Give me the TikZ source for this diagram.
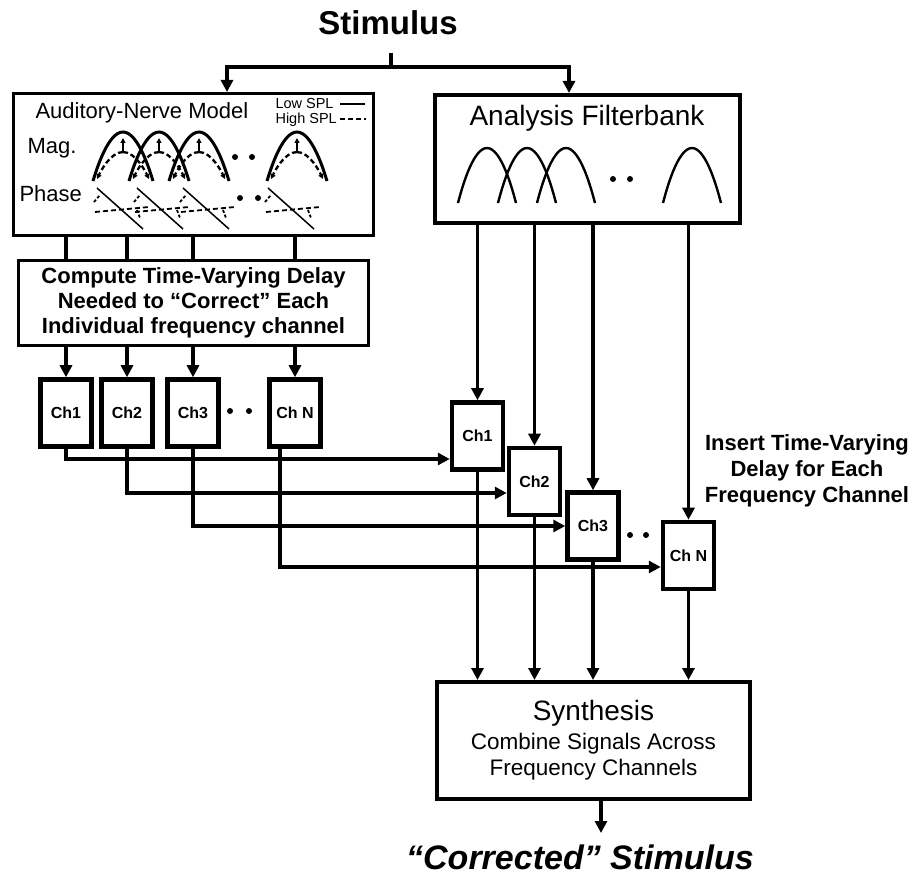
\documentclass[tikz,border=0pt]{standalone}
\usepackage{fontspec}
\setmainfont{Liberation Sans}
\usetikzlibrary{arrows.meta}

\newcommand{\fsz}[2]{\fontsize{#1}{#2}\selectfont}

\begin{document}
\begin{tikzpicture}[x=1pt, y=-1pt,
    box/.style={draw, line width=3pt, inner sep=0pt},
    chbox/.style={draw, line width=4.5pt, minimum width=51pt, minimum height=67pt,
                  inner sep=0pt, font=\fsz{16}{19}\bfseries},
    wire/.style={line width=3.4pt},
    arr/.style={wire, -{Triangle[length=12pt,width=12pt]}},
    lowc/.style={line width=3pt},
    highc/.style={line width=2.3pt, dash pattern=on 5pt off 3pt},
    small tip/.style={-{Triangle[length=5pt,width=5pt]}}]
  \useasboundingbox (0,0) rectangle (914,877);

  % main blocks
  \node[font=\fsz{33}{36}\bfseries] (stim) at (388,23) {Stimulus};
  \node[box, minimum width=360pt, minimum height=142pt] (an) at (193.5,164.5) {};
  \node[box, line width=4pt, minimum width=305pt, minimum height=128pt] (fb) at (587.5,159) {};
  \node[box, minimum width=350pt, minimum height=85pt, align=center,
        font=\fsz{22}{25}\bfseries] (comp) at (193.5,303)
    {Compute Time-Varying Delay\\Needed to “Correct” Each\\Individual frequency channel};
  \node[box, line width=4pt, minimum width=313pt, minimum height=117pt, align=center,
        font=\fsz{22.5}{26}] (syn) at (593.5,740.5)
    {{\fsz{28}{30}Synthesis}\\[3pt]Combine Signals Across\\Frequency Channels};
  \node[font=\fsz{34}{36}\bfseries\itshape] (corr) at (580,857) {“Corrected” Stimulus};
  \node[align=center, font=\fsz{22}{26}\bfseries] (ins) at (807,471)
    {Insert Time-Varying\\Delay for Each\\Frequency Channel};

  % channel boxes
  \node[chbox] (lch1) at (66,413) {Ch1};
  \node[chbox] (lch2) at (127,413) {Ch2};
  \node[chbox] (lch3) at (193,413) {Ch3};
  \node[chbox] (lchN) at (295,413) {Ch N};
  \node[chbox] (rch1) at (477.5,436) {Ch1};
  \node[chbox] (rch2) at (534.5,481.5) {Ch2};
  \node[chbox] (rch3) at (593,526) {Ch3};
  \node[chbox] (rchN) at (688.5,555.5) {Ch N};

  % auditory-nerve model contents
  \node[font=\fsz{22}{24}, anchor=base west] (antitle) at (32,119) {Auditory-Nerve Model};
  \node[font=\fsz{14.5}{16}, anchor=base west] (low) at (272,109) {Low SPL};
  \node[font=\fsz{14.5}{16}, anchor=base west] (high) at (272,124) {High SPL};
  \draw[line width=2pt] (340,104) -- (365,104);
  \draw[highc] (340,119) -- (366,119);
  \node[font=\fsz{22}{24}, anchor=base west] (mag) at (24,154) {Mag.};
  \node[font=\fsz{22}{24}, anchor=base west] (phase) at (16,202) {Phase};
  \foreach \p in {123,159,199,297} {
    \draw[lowc] (\p-30,181) parabola bend (\p,132) (\p+30,181);
    \draw[highc, small tip] (\p,152) parabola (\p-26,179);
    \draw[highc, small tip] (\p,152) parabola (\p+26,179);
    \draw[line width=1.8pt, small tip] (\p,153) -- (\p,138);
  }
  \foreach \q in {97,137,183,268} {
    \draw[line width=1.5pt] (\q,188) -- (\q+46,229);
    \draw[line width=1.8pt, dash pattern=on 5pt off 3pt] (\q-2,212) -- (\q+52,207);
    \draw[line width=1.8pt, dash pattern=on 3pt off 2pt] (\q-3,202) -- (\q+3,195);
    \draw[line width=1.8pt, dash pattern=on 3pt off 2pt] (\q+40,210) -- (\q+43,218);
  }
  \foreach \d in {235,252} \fill (\d,157) circle (3);
  \foreach \d in {240,258} \fill (\d,198) circle (3);

  % filterbank contents
  \node[font=\fsz{28}{30}] (fbtitle) at (587,118) {Analysis Filterbank};
  \foreach \p in {487,527,566,692}
    \draw[line width=2.4pt] (\p-29,203) parabola bend (\p,148) (\p+29,203);
  \foreach \d in {613,630} \fill (\d,179) circle (3);

  % dots between channels
  \foreach \d in {230,249} \fill (\d,411) circle (3);
  \foreach \d in {630,646} \fill (\d,535) circle (3);

  % connectors
  \coordinate (stub) at (391,53);
  \coordinate (split) at (391,67);
  \draw[wire] (stub) -- (split);
  \draw[arr] (split) -| ([xshift=33.5pt]an.north);
  \draw[arr] (split) -| ([xshift=-18.5pt]fb.north);

  \foreach \c in {lch1,lch2,lch3,lchN} {
    \draw[wire] (an.south -| \c) -- (comp.north -| \c);
    \draw[arr] (comp.south -| \c) -- (\c.north);
  }
  \draw[arr] (lch1.south) |- ([yshift=-23pt]rch1.west);
  \draw[arr] (lch2.south) |- ([yshift=-11.5pt]rch2.west);
  \draw[arr] (lch3.south) |- (rch3.west);
  \draw[arr] ([xshift=-15pt]lchN.south) |- ([yshift=-11.5pt]rchN.west);

  \foreach \c in {rch1,rch2,rch3,rchN} {
    \draw[arr] (fb.south -| \c) -- (\c.north);
    \draw[arr] (\c.south) -- (syn.north -| \c.south);
  }
  \coordinate (out) at (601,833);
  \draw[arr] (syn.south -| out) -- (out);
\end{tikzpicture}
\end{document}
